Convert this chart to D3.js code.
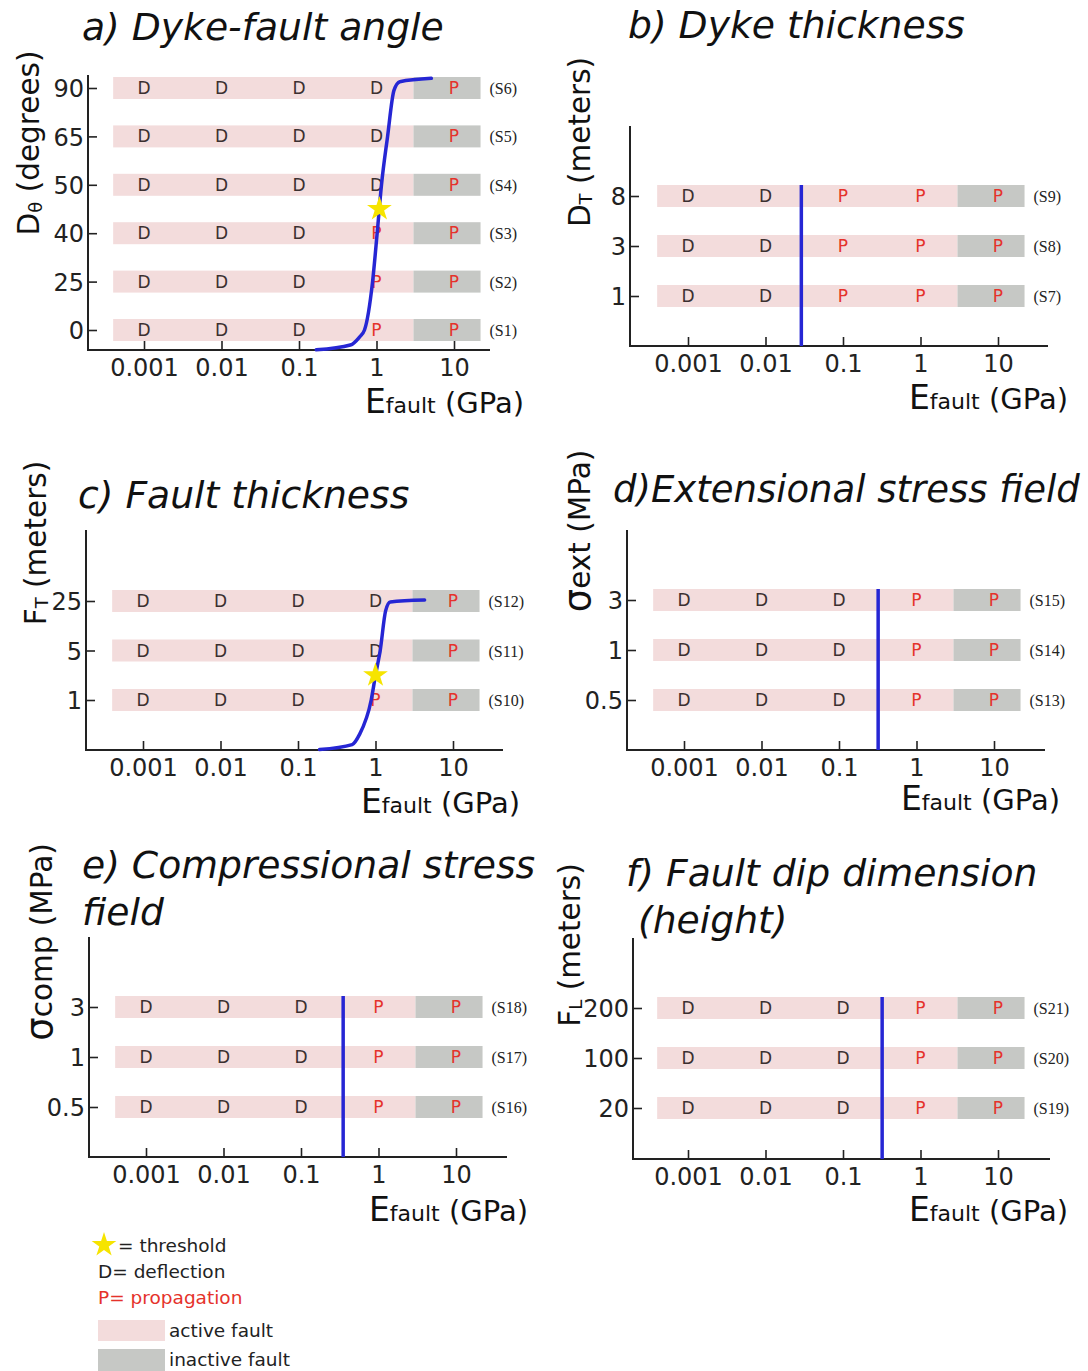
<!DOCTYPE html>
<html>
<head>
<meta charset="utf-8">
<script src="https://cdn.jsdelivr.net/npm/d3@7"></script>
<style>
  body { margin: 0; background: #fff; }
  text { font-family: "DejaVu Sans", Verdana, sans-serif; }
</style>
</head>
<body>
<div id="chart"></div>
<script>
// shared x axis (Young's modulus of the fault, GPa)
const xTicks = [0.001, 0.01, 0.1, 1, 10]
const xTickLabels = ['0.001', '0.01', '0.1', '1', '10']
const barFrom = 0.0004
const inactiveFrom = 3
const barTo = 22

// a) dyke-fault angle
const seriesA = ['(S1)', '(S2)', '(S3)', '(S4)', '(S5)', '(S6)']
const yLabelsA = ['0', '25', '40', '50', '65', '90']
const outcomesA = [
  ['D', 'D', 'D', 'P', 'P'],
  ['D', 'D', 'D', 'P', 'P'],
  ['D', 'D', 'D', 'P', 'P'],
  ['D', 'D', 'D', 'D', 'P'],
  ['D', 'D', 'D', 'D', 'P'],
  ['D', 'D', 'D', 'D', 'P']
]
// [E (GPa), row position]
const curveA = [[0.167, -0.41], [0.46, -0.31], [0.6, -0.15], [0.7, 0], [0.89, 1], [1.02, 2],
  [1.16, 3], [1.39, 4], [1.68, 4.95], [2.0, 5.13], [5.1, 5.2]]
const starA = [1.09, 2.5]

// b) dyke thickness
const seriesB = ['(S7)', '(S8)', '(S9)']
const yLabelsB = ['1', '3', '8']
const outcomesB = [
  ['D', 'D', 'P', 'P', 'P'],
  ['D', 'D', 'P', 'P', 'P'],
  ['D', 'D', 'P', 'P', 'P']
]
const thresholdB = 0.029

// c) fault thickness
const seriesC = ['(S10)', '(S11)', '(S12)']
const yLabelsC = ['1', '5', '25']
const outcomesC = [
  ['D', 'D', 'D', 'P', 'P'],
  ['D', 'D', 'D', 'D', 'P'],
  ['D', 'D', 'D', 'D', 'P']
]
const curveC = [[0.19, -1], [0.5, -0.9], [0.62, -0.7], [0.88, 0], [1.0, 0.5], [1.15, 1],
  [1.35, 1.8], [1.55, 1.98], [4.3, 2.02]]
const starC = [1.0, 0.5]

// d) extensional stress field
const seriesD = ['(S13)', '(S14)', '(S15)']
const yLabelsD = ['0.5', '1', '3']
const outcomesD = [
  ['D', 'D', 'D', 'P', 'P'],
  ['D', 'D', 'D', 'P', 'P'],
  ['D', 'D', 'D', 'P', 'P']
]
const thresholdD = 0.32

// e) compressional stress field
const seriesE = ['(S16)', '(S17)', '(S18)']
const yLabelsE = ['0.5', '1', '3']
const outcomesE = outcomesD.map(r => r.slice())
const thresholdE = 0.35

// f) fault dip dimension
const seriesF = ['(S19)', '(S20)', '(S21)']
const yLabelsF = ['20', '100', '200']
const outcomesF = outcomesD.map(r => r.slice())
const thresholdF = 0.32

const pink = '#f3dcdc'
const grey = '#c6c8c5'
const blue = '#2626d4'
const red = '#e5322b'
const dark = '#3b3030'

const panels = [
  { title: ['a) Dyke-fault angle'], tx: 82, ty: 40, ts: 37.7, L: 88, B: 350, T: 75, W: 402, t0: 56,
    rowBottom: 330, gap: 48.4, series: seriesA, yLabels: yLabelsA, outcomes: outcomesA,
    curve: curveA, star: starA,
    ylab: [['D', 29.5, 0], ['θ', 18, 3], [' (degrees)', 29.5, -3]], ylx: 39, yly: 143,
    xlx: 524, xly: 413 },
  { title: ['b) Dyke thickness'], tx: 628, ty: 38, ts: 37.7, L: 630, B: 346, T: 126, W: 418, t0: 58,
    rowBottom: 296, gap: 50, series: seriesB, yLabels: yLabelsB, outcomes: outcomesB,
    threshold: thresholdB,
    ylab: [['D', 29.5, 0], ['T', 18, 2], [' (meters)', 29.5, -2]], ylx: 590, yly: 142,
    xlx: 1068, xly: 409 },
  { title: ['c) Fault thickness'], tx: 78, ty: 508, ts: 37.7, L: 86, B: 750, T: 530, W: 417, t0: 57,
    rowBottom: 700, gap: 49.5, series: seriesC, yLabels: yLabelsC, outcomes: outcomesC,
    curve: curveC, star: starC,
    ylab: [['F', 29.5, 0], ['T', 18, 2], [' (meters)', 29.5, -2]], ylx: 46, yly: 543,
    xlx: 520, xly: 813 },
  { title: ['d)Extensional stress field'], tx: 613, ty: 502, ts: 37, L: 627, B: 750, T: 530, W: 418, t0: 57,
    rowBottom: 700, gap: 50, series: seriesD, yLabels: yLabelsD, outcomes: outcomesD,
    threshold: thresholdD,
    ylab: [['σ', 37, 0], ['ext (MPa)', 29.5, 0]], ylx: 590, yly: 531,
    xlx: 1060, xly: 810 },
  { title: ['e) Compressional stress', 'field'], tx: 82, ty: 878, ts: 37.7, L: 89, B: 1157, T: 937, W: 418, t0: 57,
    rowBottom: 1107, gap: 50, series: seriesE, yLabels: yLabelsE, outcomes: outcomesE,
    threshold: thresholdE,
    ylab: [['σ', 37, 0], ['comp (MPa)', 29.5, 0]], ylx: 52, yly: 942,
    xlx: 528, xly: 1221 },
  { title: ['f) Fault dip dimension', ' (height)'], tx: 626, ty: 886, ts: 37.7, L: 633, B: 1159, T: 938, W: 417, t0: 55,
    rowBottom: 1108, gap: 50, series: seriesF, yLabels: yLabelsF, outcomes: outcomesF,
    threshold: thresholdF,
    ylab: [['F', 29.5, 0], ['L', 18, 2], [' (meters)', 29.5, -2]], ylx: 580, yly: 945,
    xlx: 1068, xly: 1221 }
]

const svg = d3.select('#chart').append('svg')
  .attr('width', 1088).attr('height', 1371)
  .style('background', '#fff')

const decade = 77.5
const rowH = 22

panels.forEach(p => {
  const g = svg.append('g')
  const n = p.series.length
  const x = d3.scaleLog().domain([0.001, 10]).range([p.L + p.t0, p.L + p.t0 + 4 * decade])
  const y = d3.scaleLinear().domain([0, n - 1]).range([p.rowBottom, p.rowBottom - (n - 1) * p.gap])

  // title
  p.title.forEach((t, i) => {
    g.append('text').attr('x', p.tx).attr('y', p.ty + i * 47)
      .style('font-size', p.ts + 'px').style('font-style', 'italic').attr('fill', '#111')
      .attr('xml:space', 'preserve').text(t)
  })

  // rows
  const rows = g.selectAll('.row').data(p.outcomes).join('g').attr('class', 'row')
  rows.append('rect')
    .attr('x', x(barFrom)).attr('y', (d, i) => y(i) - rowH / 2)
    .attr('width', x(inactiveFrom) - x(barFrom)).attr('height', rowH).attr('fill', pink)
  rows.append('rect')
    .attr('x', x(inactiveFrom)).attr('y', (d, i) => y(i) - rowH / 2)
    .attr('width', x(barTo) - x(inactiveFrom)).attr('height', rowH).attr('fill', grey)
  rows.each(function (d, i) {
    d3.select(this).selectAll('text.o').data(d).join('text').attr('class', 'o')
      .attr('x', (v, j) => x(xTicks[j])).attr('y', y(i) + 6)
      .attr('text-anchor', 'middle').style('font-size', '17px')
      .attr('fill', v => v === 'P' ? red : dark).text(v => v)
    d3.select(this).append('text')
      .attr('x', x(barTo) + 9).attr('y', y(i) + 6)
      .style('font-family', '"Liberation Serif", "Times New Roman", serif')
      .style('font-size', '16px').attr('fill', '#222').text(p.series[i])
  })

  // axes
  const xAxis = g.append('g').attr('transform', `translate(0,${p.B})`)
    .call(d3.axisBottom(x).tickValues(xTicks).tickFormat((d, i) => xTickLabels[i])
      .tickSize(-9).tickPadding(9))
  const yAxis = g.append('g').attr('transform', `translate(${p.L},0)`)
    .call(d3.axisLeft(y).tickValues(d3.range(n)).tickFormat(i => p.yLabels[i])
      .tickSize(-9).tickPadding(4))
  ;[xAxis, yAxis].forEach(a => {
    a.select('.domain').remove()
    a.selectAll('line').attr('stroke', '#222').attr('stroke-width', 1.6)
    a.selectAll('text').style('font-family', '"DejaVu Sans", Verdana, sans-serif')
      .style('font-size', '24px').attr('fill', '#222')
  })
  yAxis.selectAll('text').attr('dy', '0.36em')
  g.append('path')
    .attr('d', `M${p.L},${p.T}V${p.B}H${p.L + p.W}`)
    .attr('fill', 'none').attr('stroke', '#222').attr('stroke-width', 2)

  // threshold
  if (p.curve) {
    g.append('path').datum(p.curve)
      .attr('d', d3.line().x(d => x(d[0])).y(d => y(d[1])).curve(d3.curveMonotoneX))
      .attr('fill', 'none').attr('stroke', blue).attr('stroke-width', 3.5)
      .attr('stroke-linecap', 'round')
    g.append('path')
      .attr('d', d3.symbol(d3.symbolStar, 190)())
      .attr('transform', `translate(${x(p.star[0])},${y(p.star[1])})`)
      .attr('fill', '#f6e400')
  }
  if (p.threshold) {
    g.append('line')
      .attr('x1', x(p.threshold)).attr('x2', x(p.threshold))
      .attr('y1', y(n - 1) - rowH / 2).attr('y2', p.B)
      .attr('stroke', blue).attr('stroke-width', 3.5)
  }

  // axis titles
  const yl = g.append('text')
    .attr('transform', `translate(${p.ylx},${p.yly}) rotate(-90)`)
    .attr('text-anchor', 'middle').attr('fill', '#111').attr('xml:space', 'preserve')
  p.ylab.forEach(([t, s, dy]) => {
    yl.append('tspan').style('font-size', s + 'px').attr('dy', dy).text(t)
  })
  const xl = g.append('text').attr('x', p.xlx).attr('y', p.xly)
    .attr('text-anchor', 'end').attr('fill', '#111').attr('xml:space', 'preserve')
  xl.append('tspan').style('font-size', '33px').text('E')
  xl.append('tspan').style('font-size', '22px').text('fault')
  xl.append('tspan').style('font-size', '29px').text(' (GPa)')
})

// legend
const lg = svg.append('g').style('font-size', '18.5px')
lg.append('path').attr('d', d3.symbol(d3.symbolStar, 190)())
  .attr('transform', 'translate(104,1245)').attr('fill', '#f6e400')
lg.append('text').attr('x', 118).attr('y', 1252).attr('fill', '#222').text('= threshold')
lg.append('text').attr('x', 98).attr('y', 1278).attr('fill', '#222').text('D= deflection')
lg.append('text').attr('x', 98).attr('y', 1304).attr('fill', red).text('P= propagation')
lg.append('rect').attr('x', 98).attr('y', 1320).attr('width', 67).attr('height', 21).attr('fill', pink)
lg.append('text').attr('x', 169).attr('y', 1337).attr('fill', '#222').text('active fault')
lg.append('rect').attr('x', 98).attr('y', 1349).attr('width', 67).attr('height', 22).attr('fill', grey)
lg.append('text').attr('x', 169).attr('y', 1366).attr('fill', '#222').text('inactive fault')
</script>
</body>
</html>
